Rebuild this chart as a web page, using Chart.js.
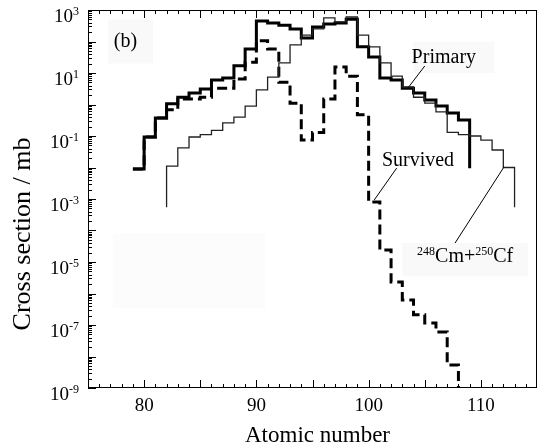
<!DOCTYPE html>
<html>

<head>
    <title>Cross section vs atomic number</title>
    <script src="https://cdn.jsdelivr.net/npm/chart.js"></script>
    <style>
        html,
        body {
            margin: 0;
            padding: 0;
            background: #fff;
        }

        canvas {
            display: block;
        }
    </style>
</head>

<body>
    <canvas id="csChart" width="540" height="444"></canvas>

    <script>
        // atomic number bins (left edge of each bin) and cross sections in mb
        const zPrimary = [79, 80, 81, 82, 83, 84, 85, 86, 87, 88, 89, 90, 91, 92, 93, 94,
            95, 96, 97, 98, 99, 100, 101, 102, 103, 104, 105, 106, 107, 108];
        const primary = [0.009, 0.093, 0.37, 1.05, 1.7, 2.3, 3.1, 6.0, 6.9, 17, 58, 450, 390, 330, 250, 130,
            290, 360, 390, 510, 68, 32, 6.9, 6.0, 3.3, 2.3, 1.4, 0.89, 0.54, 0.32];
        const primaryEnd = 0.0095;

        const zTarget = [82, 83, 84, 85, 86, 87, 88, 89, 90, 91, 92, 93, 94, 95, 96, 97,
            98, 99, 100, 101, 102, 103, 104, 105, 106, 107, 108, 109, 110, 111, 112];
        const target = [0.011, 0.042, 0.093, 0.11, 0.15, 0.26, 0.40, 0.89, 2.9, 7.4, 21, 78, 160, 250, 560, 420,
            600, 160, 68, 21, 7.9, 3.6, 1.7, 1.1, 0.58, 0.13, 0.11, 0.10, 0.074, 0.036, 0.010];
        const targetFloor = 5.5e-4;

        const zSurvived = [79, 80, 81, 82, 83, 84, 85, 86, 87, 88, 89, 90, 91, 92, 93, 94,
            95, 96, 97, 98, 99, 100, 101, 102, 103, 104, 105, 106, 107];
        const survived = [0.009, 0.093, 0.37, 0.68, 1.5, 1.5, 1.7, 3.3, 3.3, 6.5, 22, 105, 58, 5.1, 1.1, 0.074,
            0.13, 1.5, 15.5, 7.9, 0.47, 8e-4, 2.4e-5, 2.3e-6, 6.2e-7, 2.1e-7, 1.15e-7, 6e-8, 5.4e-9];
        const survivedEnd = 1e-10;

        const xLabels = [80, 90, 100, 110];
        const yExponents = [3, 1, -1, -3, -5, -7, -9];

        const serif = '"Liberation Serif", "Times New Roman", serif';

        // histogram outline: each value holds from its bin edge to the next
        function outline(zs, vals, start, end) {
            const pts = [];
            if (start !== null) pts.push({ x: zs[0], y: start });
            zs.forEach((z, i) => pts.push({ x: z, y: vals[i] }));
            pts.push({ x: zs[zs.length - 1] + 1, y: end });
            return pts;
        }

        function drawSup(ctx, parts, x, y, align) {
            // parts: [text, isSup]
            const big = '20px ' + serif, small = '12px ' + serif;
            let w = 0;
            parts.forEach(p => { ctx.font = p[1] ? small : big; w += ctx.measureText(p[0]).width; });
            let cx = align === 'right' ? x - w : align === 'center' ? x - w / 2 : x;
            ctx.textAlign = 'left';
            ctx.textBaseline = 'alphabetic';
            parts.forEach(p => {
                ctx.font = p[1] ? small : big;
                ctx.fillText(p[0], cx, p[1] ? y - 7 : y);
                cx += ctx.measureText(p[0]).width;
            });
        }

        const frame = {
            id: 'frame',
            beforeDatasetsDraw(chart) {
                const { ctx, scales: { x, y } } = chart;
                const box = (x0, y0, x1, y1) => {
                    const l = x.getPixelForValue(x0), r = x.getPixelForValue(x1);
                    const t = y.getPixelForValue(y0), b = y.getPixelForValue(y1);
                    ctx.fillRect(l, t, r - l, b - t);
                };
                ctx.save();
                ctx.fillStyle = '#f9f9f9';
                box(76.8, 500, 80.8, 20);        // (b)
                box(104.0, 100, 111.2, 10);      // Primary
                box(103.0, 4e-5, 114.2, 3.5e-6); // target label
                ctx.fillStyle = '#fcfcfc';
                box(77.2, 8e-5, 90.8, 3.5e-7);
                ctx.restore();
            },
            afterDatasetsDraw(chart) {
                const { ctx, chartArea: a, scales: { x, y } } = chart;
                ctx.save();
                ctx.strokeStyle = '#000';
                ctx.fillStyle = '#000';
                ctx.lineWidth = 1;
                ctx.strokeRect(a.left + 0.5, a.top + 0.5, a.right - a.left - 1, a.bottom - a.top - 1);

                // inward ticks
                ctx.beginPath();
                for (let v = 76; v <= 114; v++) {
                    const px = Math.round(x.getPixelForValue(v)) + 0.5;
                    const len = v % 5 === 0 ? 8 : 4;
                    ctx.moveTo(px, a.bottom); ctx.lineTo(px, a.bottom - len);
                    ctx.moveTo(px, a.top); ctx.lineTo(px, a.top + len);
                }
                for (let e = -9; e < 3; e++) {
                    for (let m = 1; m < 10; m++) {
                        const py = Math.round(y.getPixelForValue(m * Math.pow(10, e))) + 0.5;
                        const len = m === 1 ? 8 : 4;
                        ctx.moveTo(a.left, py); ctx.lineTo(a.left + len, py);
                    }
                }
                ctx.stroke();

                // tick labels
                ctx.font = '19px ' + serif;
                ctx.textAlign = 'center';
                ctx.textBaseline = 'alphabetic';
                xLabels.forEach(v => ctx.fillText(String(v), x.getPixelForValue(v), a.bottom + 23));
                yExponents.forEach(e => {
                    const py = y.getPixelForValue(Math.pow(10, e));
                    ctx.font = '12px ' + serif;
                    const sw = ctx.measureText(String(e)).width;
                    ctx.font = '19px ' + serif;
                    const bw = ctx.measureText('10').width;
                    const right = a.left - 9;
                    ctx.textAlign = 'left';
                    ctx.fillText('10', right - sw - bw, py + 11.5);
                    ctx.font = '12px ' + serif;
                    ctx.fillText(String(e), right - sw, py + 5);
                });

                // axis titles
                ctx.font = '23px ' + serif;
                ctx.textAlign = 'center';
                ctx.fillText('Atomic number', (a.left + a.right) / 2 + 5, a.bottom + 54);
                ctx.save();
                ctx.translate(23, 234);
                ctx.rotate(-Math.PI / 2);
                ctx.font = '26px ' + serif;
                ctx.textBaseline = 'middle';
                ctx.fillText('Cross section / mb', 0, 0);
                ctx.restore();

                // labels and pointer lines
                const P = (zx, v) => [x.getPixelForValue(zx), y.getPixelForValue(v)];
                drawSup(ctx, [['(b)', false]], ...P(78.34, 67), 'center');
                drawSup(ctx, [['Primary', false]], ...P(106.7, 20.7), 'center');
                drawSup(ctx, [['Survived', false]], ...P(104.4, 0.0112), 'center');
                drawSup(ctx, [['248', true], ['Cm+', false], ['250', true], ['Cf', false]], ...P(108.6, 1e-5), 'center');

                ctx.beginPath();
                [[105.0, 16.7, 103.5, 3.34], [102.5, 9.6e-3, 100.5, 9.3e-4], [107.7, 4.0e-5, 112.06, 0.0104]]
                    .forEach(l => {
                        ctx.moveTo(...P(l[0], l[1]));
                        ctx.lineTo(...P(l[2], l[3]));
                    });
                ctx.stroke();
                ctx.restore();
            }
        };

        new Chart(document.getElementById('csChart'), {
            type: 'line',
            data: {
                datasets: [{
                    label: '248Cm+250Cf',
                    data: outline(zTarget, target, targetFloor, targetFloor),
                    borderColor: '#222',
                    borderWidth: 1.3
                }, {
                    label: 'Primary',
                    data: outline(zPrimary, primary, null, primaryEnd),
                    borderColor: '#000',
                    borderWidth: 3
                }, {
                    label: 'Survived',
                    data: outline(zSurvived, survived, null, survivedEnd),
                    borderColor: '#000',
                    borderWidth: 3,
                    borderDash: [10, 5]
                }]
            },
            options: {
                responsive: false,
                animation: false,
                layout: { padding: { left: 88, top: 10, right: 3, bottom: 56 } },
                elements: {
                    point: { radius: 0 },
                    line: { stepped: 'before', tension: 0, borderCapStyle: 'butt', borderJoinStyle: 'miter', fill: false }
                },
                datasets: { line: { clip: 0 } },
                plugins: { legend: { display: false }, tooltip: { enabled: false } },
                scales: {
                    x: { type: 'linear', min: 75, max: 115, display: false },
                    y: { type: 'logarithmic', min: 1e-9, max: 1e3, display: false }
                }
            },
            plugins: [frame]
        });
    </script>
</body>

</html>
